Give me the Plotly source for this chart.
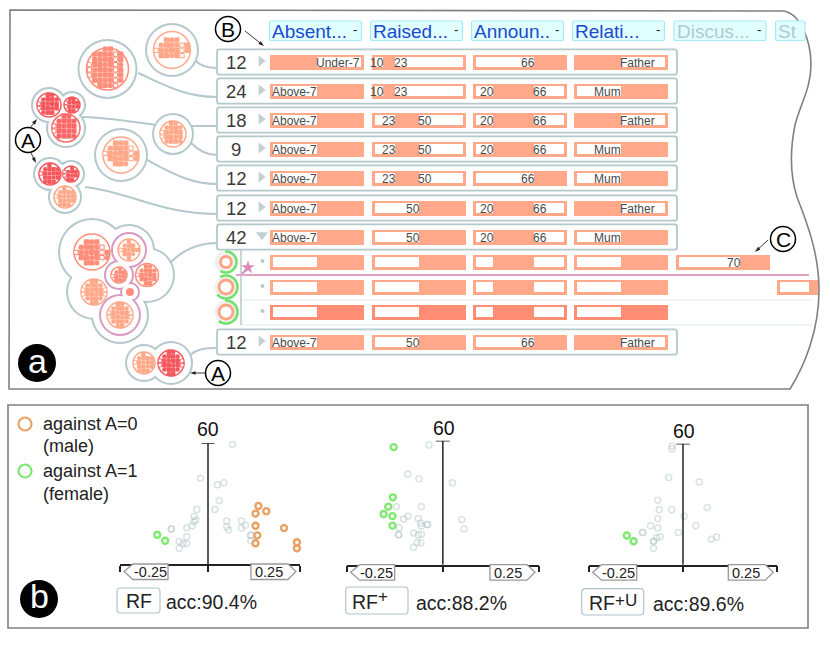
import numpy as np
import plotly.graph_objects as go

# ---------- DATA ----------
FEATURES = ["Absent...", "Raised...", "Announ..", "Relati...", "Discus...", "St"]
FEATURE_ACTIVE = [True, True, True, True, False, False]
RULE_COUNTS = [12, 24, 18, 9, 12, 12, 42, 12]
ABSENCES = ["Under-7", "Above-7", "Above-7", "Above-7", "Above-7", "Above-7", "Above-7", "Above-7"]
RAISED_LOW = [10, 10, 23, 23, 23, 50, 50, 50]
RAISED_HIGH = [23, 23, 50, 50, 50, None, None, None]
ANNOUNCE_LOW = [66, 20, 20, 20, 66, 20, 20, 66]
ANNOUNCE_HIGH = [None, 66, 66, 66, None, 66, 66, None]
RELATION = ["Father", "Mum", "Father", "Mum", "Mum", "Father", "Mum", "Father"]
DISCUSSION_LOW = 70
STUDENT_LOW = 33
GREEN_FRACTIONS = [0.60, 0.72, 0.62]
GREEN_STARTS = [-5, -30, -5]

RF_GRAY_X = [.068, -.021, .026, .044, .031, .019, -.031, -.039, -.034, -.039, -.044, -.059, -.102, -.102, -.059, -.069, -.059, -.080, -.080, .052, .052, .057, .093, .093, .104, .119, .119, .119]
RF_GRAY_Y = [59.2, 42.5, 39.3, 40.3, 31.5, 27, 27, 23.5, 21.8, 21, 19, 18, 17.3, 17.3, 13.5, 10.2, 10.2, 11.2, 7.8, 21.3, 18.5, 16.8, 21.3, 17.8, 19.2, 14.3, 14.3, 11.5]
RF_ORANGE_X = [.140, .162, .132, .132, .137, .132, .211, .247, .247]
RF_ORANGE_Y = [28.8, 26.2, 25, 19, 14.2, 10.3, 17.8, 10.8, 7.8]
RF_GREEN_X = [-.141, -.119]
RF_GREEN_Y = [14.5, 11.5]

RFP_GRAY_X = [-.036, -.091, -.062, .025, -.121, -.056, -.091, -.102, -.064, -.058, -.040, -.040, -.056, -.114, -.115, -.115, -.076, -.056, -.064, -.057, -.067, -.076, .049, .055]
RFP_GRAY_Y = [57.9, 43.9, 41.6, 39.7, 28.1, 28.1, 23.5, 22.1, 22.4, 20, 19.5, 19.5, 18.7, 17.9, 14.5, 14.5, 15.3, 14.7, 14.4, 10.6, 10.6, 8.5, 21.8, 17.3]
RFP_GREEN_X = [-.128, -.130, -.142, -.154, -.131, -.131]
RFP_GREEN_Y = [56.9, 32.6, 28.1, 24.5, 23.5, 18.9]

RFU_GRAY_X = [-.029, -.029, -.038, .043, -.067, -.063, -.030, .064, .003, -.067, -.086, -.067, -.107, -.107, -.012, .034, -.061, -.070, -.078, -.078, -.078, .075, .089]
RFU_GRAY_Y = [58.8, 57.4, 43.3, 41, 31.9, 27.3, 27.3, 28.4, 24, 22.8, 19.3, 18.2, 16, 16, 16, 19.3, 13.9, 13.4, 11.6, 11.6, 8.1, 12.6, 13.7]
RFU_GREEN_X = [-.149, -.131]
RFU_GREEN_Y = [14.5, 11.6]

MODEL_NAMES = ["RF", "RF", "RF"]
MODEL_SUP = ["", "+", "+U"]
MODEL_ACC = ["acc:90.4%", "acc:88.2%", "acc:89.6%"]

# ---------- STYLE / LAYOUT ----------
W, H = 830, 646
FONT = "Liberation Sans"
GRAY = "#b5c8cc"
ORANGE = "#ffa98a"
DARK = "#ff8e75"
RED = "#f5575c"
CORAL = "#ff8f7a"
PINK = "#d79ac4"
GREEN = "#7fe870"
OUTLINE = "#808080"
COL_X = [270, 372, 473, 574, 676, 777]
COL_W = 93.5
ROW_Y = [62, 91, 120, 149, 178, 208, 237, 342]
SUB_Y = [262, 287, 312]
INSET = 2.5
BAR_H = 15

fig = go.Figure()
shapes, ann = [], []


def text(x, y, s, size=12, color="#4a4a4a", anchor="center", **kw):
    ann.append(dict(x=x, y=y, xref="x", yref="y", text=s, showarrow=False, xanchor=anchor, yanchor="middle",
                    borderpad=0, borderwidth=0, font=dict(family=FONT, size=size, color=color), **kw))


def round_box(x0, y0, x1, y1, r=2.5, fill="white", line=GRAY, width=1.8, layer="below"):
    p = (f"M{x0+r},{y0} L{x1-r},{y0} Q{x1},{y0} {x1},{y0+r} L{x1},{y1-r} Q{x1},{y1} {x1-r},{y1} "
         f"L{x0+r},{y1} Q{x0},{y1} {x0},{y1-r} L{x0},{y0+r} Q{x0},{y0} {x0+r},{y0} Z")
    shapes.append(dict(type="path", path=p, fillcolor=fill, line=dict(color=line, width=width), layer=layer,
                       xref="x", yref="y"))


def path(p, color=GRAY, width=2, fill=None, layer="below"):
    d = dict(type="path", path=p, line=dict(color=color, width=width), layer=layer, xref="x", yref="y")
    if fill:
        d["fillcolor"] = fill
    shapes.append(d)


def plain(**kw):
    fig.add_trace(go.Scatter(showlegend=False, hoverinfo="skip", **kw))


# panel frames
path("M10,10 L783,11 C800,13 811,40 811,65 C811,88 800,105 795,125 C790,150 790,175 797,197 "
     "C808,225 819,255 819,290 C819,330 805,365 790,389 L9,389 Z", color=OUTLINE, width=1.6)
shapes.append(dict(type="rect", x0=8, y0=405, x1=808, y1=628, xref="x", yref="y",
                   line=dict(color=OUTLINE, width=1.6), layer="below"))

# connectors
for p in ["M195,60 C200,66 208,68 217,68", "M138,73 C165,85 185,97 217,97", "M83,117 C110,118 135,122 155,125",
          "M192,126 L217,126", "M191,143 C198,150 208,155 217,155", "M147,160 C170,172 190,184 217,184",
          "M85,187 C130,192 160,214 217,214", "M171,262 C185,248 200,243 217,243", "M190,355 C197,349 205,348 217,348"]:
    path(p)

# header boxes
HEAD_X = [269.5, 370.5, 471.5, 572.5, 674, 775.5]
for i, name in enumerate(FEATURES):
    x1 = HEAD_X[i] + 92 if i < 5 else 805
    round_box(HEAD_X[i], 21, x1, 40.5, r=2, fill="#e2ffff", line="#a4ecf8", width=1.2)
    text(HEAD_X[i] + 2.5, 31, name, size=19, color="#1a4acc" if FEATURE_ACTIVE[i] else "#b4c8d0", anchor="left")
    if i < 5:
        text(HEAD_X[i] + 85, 29, "-", size=13, color="#222")

# rule rows
for y in ROW_Y:
    round_box(217, y - 12.7, 677, y + 12.7)
for y in (300, 325):
    path(f"M241,{y} L812,{y}", color="#eef2f2", width=1.5)
path("M241,249 L241,325", color=GRAY, width=1.5)

# range bars
bx, bw, by = [], [], []
dx, dw, dy = [], [], []
wx, ww, wy = [], [], []


def num_px(col, v):
    return COL_X[col] + INSET + v / 100 * (COL_W - 2 * INSET)


def add_range(col, y, lo, hi, labels=True):
    segs = []
    if lo is not None:
        segs.append((0, lo))
    if hi is not None:
        segs.append((hi, 100))
    for a, b in segs:
        xa, xb = num_px(col, a), num_px(col, b)
        wx.append(xa); ww.append(xb - xa); wy.append(y)
    if labels:
        if lo is not None:
            text(num_px(col, lo) + 1, y + 0.5, str(lo), anchor="right")
        if hi is not None:
            text(num_px(col, hi) - 1, y + 0.5, str(hi), anchor="left")


def add_cat(col, y, label, left_val, labels=True):
    seg = (0, 50) if label == left_val else (50, 100)
    xa, xb = num_px(col, seg[0]), num_px(col, seg[1])
    wx.append(xa); ww.append(xb - xa); wy.append(y)
    if labels:
        if seg[0] == 0:
            text(xb + 0.5, y + 0.5, label, anchor="right")
        else:
            text(xa - 1, y + 0.5, label, anchor="left")


def add_bg(col, y, dark=False, width=COL_W):
    (dx if dark else bx).append(COL_X[col])
    (dw if dark else bw).append(width)
    (dy if dark else by).append(y)


for r, y in enumerate(ROW_Y):
    for c in range(4):
        add_bg(c, y)
    add_cat(0, y, ABSENCES[r], "Above-7")
    add_range(1, y, RAISED_LOW[r], RAISED_HIGH[r])
    add_range(2, y, ANNOUNCE_LOW[r], ANNOUNCE_HIGH[r])
    add_cat(3, y, RELATION[r], "Mum")
    text(236, y + 0.5, str(RULE_COUNTS[r]), size=18.5, color="#3a3a3a")

for s, y in enumerate(SUB_Y):
    for c in range(4):
        add_bg(c, y, dark=(s == 2))
    add_cat(0, y, "Above-7", "Above-7", labels=False)
    add_range(1, y, 50, None, labels=False)
    add_range(2, y, 20, 66, labels=False)
    add_cat(3, y, "Mum", "Mum", labels=False)
add_bg(4, SUB_Y[0])
add_range(4, SUB_Y[0], DISCUSSION_LOW, None)
add_bg(5, SUB_Y[1], width=818 - COL_X[5])
add_range(5, SUB_Y[1], STUDENT_LOW, None, labels=False)

for xs, ws, ys, col, h in [(bx, bw, by, ORANGE, BAR_H), (dx, dw, dy, DARK, BAR_H),
                           (wx, ww, wy, "white", BAR_H - 2 * INSET)]:
    fig.add_trace(go.Bar(x=ws, base=xs, y=ys, orientation="h", width=h, marker=dict(color=col, line=dict(width=0)),
                         hoverinfo="skip", showlegend=False))

# row triangles and sub-row dots
plain(x=[261] * 7, y=[y - 1 for y in ROW_Y[:6]] + [ROW_Y[7] - 1], mode="markers",
      marker=dict(symbol="triangle-right", size=9.5, color="#c2d0d4"))
plain(x=[262], y=[ROW_Y[6] - 2], mode="markers", marker=dict(symbol="triangle-down", size=10.5, color="#c2d0d4"))
plain(x=[262.5] * 3, y=[y - 1 for y in SUB_Y], mode="markers", marker=dict(size=4, color="#b8c8cc"))

# pink pin line
plain(x=[236, 809], y=[275, 275], mode="lines", line=dict(color="#e2a0c8", width=2))
plain(x=[242, 248], y=[274, 267], mode="lines", line=dict(color="#d98ab8", width=1.8))
plain(x=[248], y=[267.5], mode="markers", marker=dict(symbol="star", size=10, color="#d98ab8"))

# sub-row rings
RING_R = [5.5, 7, 7]
plain(x=[226] * 3, y=SUB_Y, mode="markers", marker=dict(size=23, color="#eef1f0"))
plain(x=[226] * 3, y=SUB_Y, mode="markers",
      marker=dict(size=[2 * r for r in RING_R], opacity=1, color="white", line=dict(color="#ffa480", width=2.8)))
for frac, start, y, rr in zip(GREEN_FRACTIONS, GREEN_STARTS, SUB_Y, RING_R):
    th = np.radians(np.linspace(start, start + 360 * frac, 40))
    ra = 10.5 if rr < 6 else 11.5
    pts = [f"{226 + ra * np.sin(t):.2f},{y - ra * np.cos(t):.2f}" for t in th]
    path("M" + " L".join(pts), color="#72e06a", width=2.6, layer="above")


# clusters
def blob(circles, color=GRAY, w=2):
    xs = [c[0] for c in circles]
    ys = [c[1] for c in circles]
    rs = [c[2] for c in circles]
    plain(x=xs, y=ys, mode="markers", marker=dict(size=[2 * r + w for r in rs], opacity=1, color=color, line=dict(width=0)))
    plain(x=xs, y=ys, mode="markers", marker=dict(size=[2 * r - w for r in rs], opacity=1, color="white", line=dict(width=0)))


def glyphs(cx, cy, ring, rx, ry, color, pitch=5.2, dyy=0):
    sx, sy, syms, hx, hy = [], [], [], [], []
    for j, gy in enumerate(np.arange(-ry, ry + 0.01, pitch)):
        for i, gx in enumerate(np.arange(-rx, rx + 0.01, pitch)):
            if (gx / rx) ** 2 + (gy / ry) ** 2 <= 1.15:
                sx.append(cx + gx); sy.append(cy + gy + dyy)
                syms.append("square" if (i + 2 * j) % 3 else "circle")
                if (3 * i + 5 * j) % 5 == 0:
                    hx.append(cx + gx); hy.append(cy + gy + dyy)
    if ring:
        plain(x=[cx], y=[cy], mode="markers", marker=dict(size=2 * ring, color="white", line=dict(color=color, width=1.5)))
    plain(x=sx, y=sy, mode="markers", marker=dict(size=pitch + 0.1, symbol=syms, opacity=1, color=color, line=dict(width=0)))
    plain(x=hx, y=hy, mode="markers", marker=dict(size=pitch * 0.62, symbol="square", color="white", line=dict(width=0)))


blob([(172, 50, 26)])
glyphs(172, 50, 18.5, 16, 10, ORANGE)
blob([(107.5, 69, 29)])
glyphs(107.5, 69, 21, 18, 20, CORAL)
blob([(49, 105, 17), (72, 105, 13), (66, 128, 19), (60, 112, 12)])
glyphs(49, 105, 12, 10, 10, RED, pitch=4.4)
glyphs(72, 105, 8, 6, 6, RED, pitch=3.8)
glyphs(66, 128, 14, 12, 12, "#f9696a", pitch=5)
blob([(173, 134, 20)])
glyphs(173, 134, 13, 11, 11, ORANGE, pitch=4.6)
blob([(121, 155, 26)])
glyphs(121, 155, 18, 16, 11, ORANGE, dyy=-1)
blob([(50, 174, 16), (71, 174, 13), (65, 197, 16), (60, 182, 10)])
glyphs(50, 174, 11, 9, 9, RED, pitch=4.2)
glyphs(71, 174, 8, 6.5, 6, RED, pitch=3.8)
glyphs(65, 197, 11, 9, 9, ORANGE, pitch=4.2)
blob([(92, 252, 33), (129, 250, 25), (147, 275, 27), (94, 292, 27), (120, 315, 28), (122, 282, 25)])
blob([(129, 250, 17), (119, 275, 14), (130, 292, 9), (120, 315, 20)], color=PINK)
glyphs(92, 252, 18, 16, 11, CORAL, dyy=1)
glyphs(129, 250, 11, 8.5, 8.5, ORANGE, pitch=4.2)
glyphs(119, 275, 8, 6.5, 6.5, CORAL, pitch=3.8)
glyphs(147, 275, 11.5, 9.5, 8.5, CORAL, pitch=4.2)
glyphs(94, 292, 13, 11, 11, ORANGE, pitch=4.4)
glyphs(120, 315, 13, 11, 11, ORANGE, pitch=4.4)
plain(x=[130], y=[292], mode="markers", marker=dict(size=8, color=CORAL))
blob([(144, 363, 18), (171, 363, 21)])
glyphs(144, 363, 11, 9, 9, ORANGE, pitch=4.2)
glyphs(171, 363, 13, 11, 11, RED, pitch=4.4)

# callouts
CALL = [(28, 140, "A"), (228, 29, "B"), (783, 239, "C"), (218, 373, "A")]
plain(x=[c[0] for c in CALL], y=[c[1] for c in CALL], mode="markers",
      marker=dict(size=25, color="white", line=dict(color="black", width=1.5)))
for c in CALL:
    text(c[0], c[1], c[2], size=21, color="black")
for (x0, y0, x1, y1) in [(30, 128, 37, 119), (31, 153, 36, 163), (245, 31, 264, 46), (768, 240, 755, 252), (205, 373, 190, 373)]:
    plain(x=[x0, x1], y=[y0, y1], mode="lines+markers", line=dict(color="#222", width=0.9),
          marker=dict(symbol="arrow", size=[0, 6], opacity=1, angleref="previous", color="#222", line=dict(width=0)))
plain(x=[37, 39], y=[363, 599], mode="markers", marker=dict(size=38, color="black"))
text(37, 361, "a", size=34, color="white")
text(39, 596, "b", size=34, color="white")

# legend panel b
plain(x=[25], y=[424], mode="markers", marker=dict(size=13, color="rgba(0,0,0,0)", line=dict(color="#e8a468", width=2.2)))
plain(x=[25], y=[471], mode="markers", marker=dict(size=13, color="rgba(0,0,0,0)", line=dict(color=GREEN, width=2.2)))
for y, s in [(424, "against A=0"), (446, "(male)"), (471, "against A=1"), (494, "(female)")]:
    text(42.5, y, s, size=18, color="#222", anchor="left")

# projection panels
PANELS = [
    dict(L=120, R=300, base=564, top=443, rng=[-88 / 360, 92 / 360], gray=(RF_GRAY_X, RF_GRAY_Y), orange=(RF_ORANGE_X, RF_ORANGE_Y), green=(RF_GREEN_X, RF_GREEN_Y),
         box=(117, 588, 160, 613), name_x=126, acc_x=165.5, t60=(208, 429), name_y=601, sup_x=0, sup_dy=0),
    dict(L=346.7, R=539, base=564.7, top=440.7, rng=[-.25, .25], gray=(RFP_GRAY_X, RFP_GRAY_Y), orange=None, green=(RFP_GREEN_X, RFP_GREEN_Y),
         box=(345.7, 587, 408, 614), name_x=352, acc_x=416, t60=(444, 428), name_y=602, sup_x=378, sup_dy=-6),
    dict(L=588.7, R=777.3, base=564.7, top=443.7, rng=[-.25, .25], gray=(RFU_GRAY_X, RFU_GRAY_Y), orange=None, green=(RFU_GREEN_X, RFU_GREEN_Y),
         box=(581.7, 588.7, 643.7, 615), name_x=589, acc_x=652.7, t60=(684, 431), name_y=603, sup_x=615, sup_dy=-3),
]
layout_axes = {}
for k, p in enumerate(PANELS):
    n = k + 2
    xa, ya = f"x{n}", f"y{n}"
    layout_axes[f"xaxis{n}"] = dict(domain=[p["L"] / W, p["R"] / W], range=p["rng"], anchor=ya, showgrid=False, zeroline=False,
                                    showline=True, linecolor="#222", linewidth=1.5, ticks="outside", ticklen=6, tickwidth=1.5,
                                    tickcolor="#222", tickvals=[p["rng"][0], 0, p["rng"][1]], showticklabels=False, fixedrange=True)
    layout_axes[f"yaxis{n}"] = dict(domain=[1 - p["base"] / H, 1 - p["top"] / H], range=[0, 60], anchor=xa, visible=False, fixedrange=True)
    shapes.append(dict(type="line", xref=xa, yref=ya, x0=0, x1=0, y0=0, y1=60, line=dict(color="#222", width=1.5)))
    shapes.append(dict(type="line", xref=xa, yref=ya, x0=-.018, x1=.018, y0=60, y1=60, line=dict(color="#222", width=1.5)))
    plain(x=p["gray"][0], y=p["gray"][1], xaxis=xa, yaxis=ya, mode="markers", cliponaxis=False,
          marker=dict(size=6, color="rgba(0,0,0,0)", line=dict(color="rgba(176,196,198,0.48)", width=1.5)))
    if p["orange"]:
        plain(x=p["orange"][0], y=p["orange"][1], xaxis=xa, yaxis=ya, mode="markers", cliponaxis=False,
              marker=dict(size=6, color="rgba(0,0,0,0)", line=dict(color="#e8a060", width=2.4)))
    plain(x=p["green"][0], y=p["green"][1], xaxis=xa, yaxis=ya, mode="markers", cliponaxis=False,
          marker=dict(size=6, color="rgba(0,0,0,0)", line=dict(color=GREEN, width=2.4)))
    L, R, yb = p["L"], p["R"], p["base"]
    path(f"M{L+4},{yb+7.5} L{L+13},{yb} L{L+48},{yb} L{L+48},{yb+15.5} L{L+13},{yb+15.5} Z", color="#999", width=1.3, fill="white", layer="above")
    path(f"M{R-49},{yb} L{R-12},{yb} L{R-4},{yb+7.5} L{R-12},{yb+15.5} L{R-49},{yb+15.5} Z", color="#999", width=1.3, fill="white", layer="above")
    text(L + 30, yb + 8, "-0.25", size=14.5, color="#222")
    text(R - 31, yb + 8, "0.25", size=14.5, color="#222")
    text(p["t60"][0], p["t60"][1], "60", size=19.5, color="#111")
    round_box(*p["box"], r=3.5, line="#b0c4cc", width=1.2)
    text(p["name_x"], p["name_y"], MODEL_NAMES[k], size=19.5, color="#222", anchor="left")
    if MODEL_SUP[k]:
        text(p["sup_x"], p["name_y"] + p["sup_dy"], MODEL_SUP[k], size=17, color="#222", anchor="left")
    text(p["acc_x"], p["name_y"] + 1, MODEL_ACC[k], size=19.5, color="#222", anchor="left")

fig.update_layout(
    width=W, height=H, margin=dict(l=0, r=0, t=0, b=0), autosize=False, paper_bgcolor="white", plot_bgcolor="rgba(0,0,0,0)",
    showlegend=False, barmode="overlay", bargap=0, shapes=shapes, annotations=ann,
    xaxis=dict(domain=[0, 1], range=[0, W], visible=False, fixedrange=True),
    yaxis=dict(domain=[0, 1], range=[H, 0], visible=False, fixedrange=True),
    **layout_axes,
)
fig.write_html("out.html", config=dict(displayModeBar=False),
               post_script="document.body.style.margin='0';document.documentElement.style.overflow='hidden';")
